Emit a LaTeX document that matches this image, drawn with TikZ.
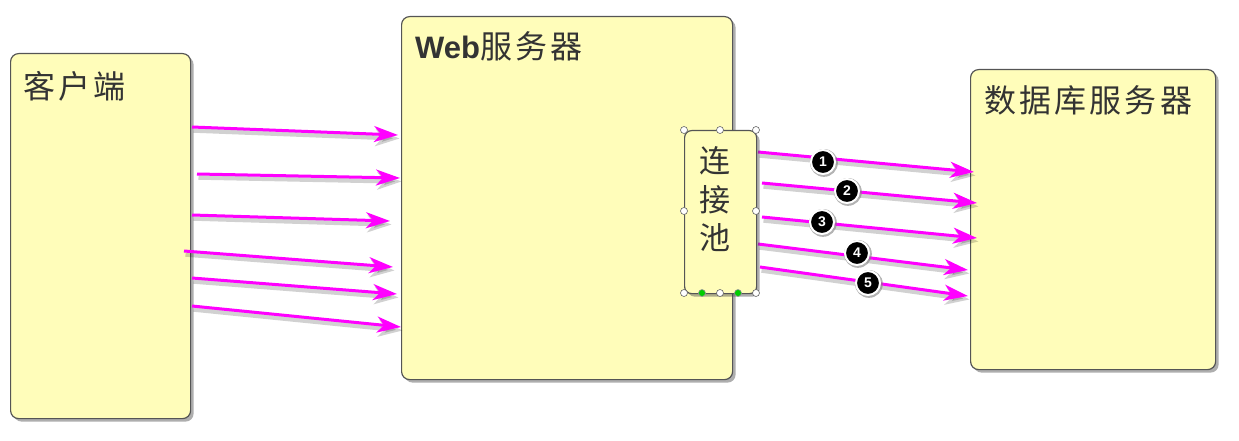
\documentclass[tikz,border=0pt]{standalone}
\usepackage{fontspec}
\setmainfont{Liberation Sans}
\newfontfamily\cjk[LetterSpace=10]{Noto Sans CJK SC}
\newfontfamily\cjkplain{Noto Sans CJK SC}
\usetikzlibrary{arrows.meta,shadows}
\definecolor{boxfill}{HTML}{FFFDBA}
\definecolor{boxline}{HTML}{555555}
\definecolor{txt}{HTML}{333333}
\definecolor{arr}{HTML}{FF00FF}
\tikzset{
  box/.style={draw=boxline, line width=1.2pt, fill=boxfill, rounded corners=8pt, anchor=north west,
    drop shadow={shadow xshift=3pt, shadow yshift=-3pt, opacity=0.45, fill=black!70}},
  title/.style={anchor=west, text=txt, inner sep=0pt, font=\fontsize{32}{34}\selectfont\cjk},
  conn/.style={arr, line width=3pt, -{Stealth[length=24pt,width=16pt,inset=7pt]}},
  connshadow/.style={black, opacity=0.18, line width=4.5pt, -{Stealth[length=24pt,width=17pt,inset=7pt]}},
  num/.style={circle, fill=black, draw=white, line width=2pt, minimum size=24pt, inner sep=0pt,
    text=white, font=\fontsize{14}{14}\selectfont\bfseries,
    drop shadow={shadow xshift=0.8pt, shadow yshift=-0.8pt, opacity=0.6, shadow scale=1.16}},
  handle/.style={circle, draw=black!60, fill=white, line width=0.6pt, minimum size=7pt, inner sep=0pt},
  ghandle/.style={circle, draw=black!40, fill=green!80!black, line width=0.6pt, minimum size=7pt, inner sep=0pt}
}
\begin{document}
\begin{tikzpicture}[x=1pt,y=-1pt]
\useasboundingbox (0,0) rectangle (1239,441);
% boxes
\node[box, minimum width=180pt, minimum height=365pt] (client) at (10,53) {};
\node[box, minimum width=331pt, minimum height=363pt] (web) at (401,16) {};
\node[box, minimum width=245pt, minimum height=300pt] (db) at (970,69) {};
% titles
\node[title] (clientT) at (23,86) {客户端};
\node[title] (webT) at (415,46) {{\fontspec{Liberation Sans}\fontsize{31}{32}\selectfont\bfseries Web}服务器};
\node[title] (dbT) at (984,100) {数据库服务器};
% client arrows
\foreach \i/\sx/\sy/\ex/\ey in {1/192/127/398/135, 2/197/174/400/178, 3/192/215/390/221,
    4/184/251/393/267, 5/192/278/397/294, 6/192/306/401/327}{
  \coordinate (cs\i) at (\sx,\sy);
  \coordinate (ce\i) at (\ex,\ey);
  \draw[connshadow] ([shift={(1.5,3.5)}]cs\i) -- ([shift={(1.5,3.5)}]ce\i);
  \draw[conn] (cs\i) -- (ce\i);
}
% pool arrows
\foreach \i/\sx/\sy/\ex/\ey in {1/758/152/974/172, 2/762/183/977/203, 3/762/217/977/238,
    4/758/244/968/270, 5/760/267/968/296}{
  \coordinate (ps\i) at (\sx,\sy);
  \coordinate (pe\i) at (\ex,\ey);
  \draw[connshadow] ([shift={(1.5,3.5)}]ps\i) -- ([shift={(1.5,3.5)}]pe\i);
  \draw[conn] (ps\i) -- (pe\i);
}
% number badges
\node[num] (n1) at (823,162) {1};
\node[num] (n2) at (847,191) {2};
\node[num] (n3) at (822,222) {3};
\node[num] (n4) at (857,253) {4};
\node[num] (n5) at (868,283) {5};
% pool box
\node[box, rounded corners=7pt, minimum width=72pt, minimum height=163pt] (pool) at (684,130) {};
\node[title, anchor=center, font=\fontsize{31}{32}\selectfont\cjkplain] (p1) at (715,161) {连};
\node[title, anchor=center, font=\fontsize{31}{32}\selectfont\cjkplain] (p2) at (715,200) {接};
\node[title, anchor=center, font=\fontsize{31}{32}\selectfont\cjkplain] (p3) at (715,238) {池};
% selection handles
\foreach \n/\x/\y in {h1/684/130, h2/720/130, h3/756/130, h4/684/211, h5/756/211, h6/684/293, h7/720/293, h8/756/293}
  \node[handle] (\n) at (\x,\y) {};
\node[ghandle] (g1) at (702,293) {};
\node[ghandle] (g2) at (738,293) {};
\end{tikzpicture}
\end{document}
